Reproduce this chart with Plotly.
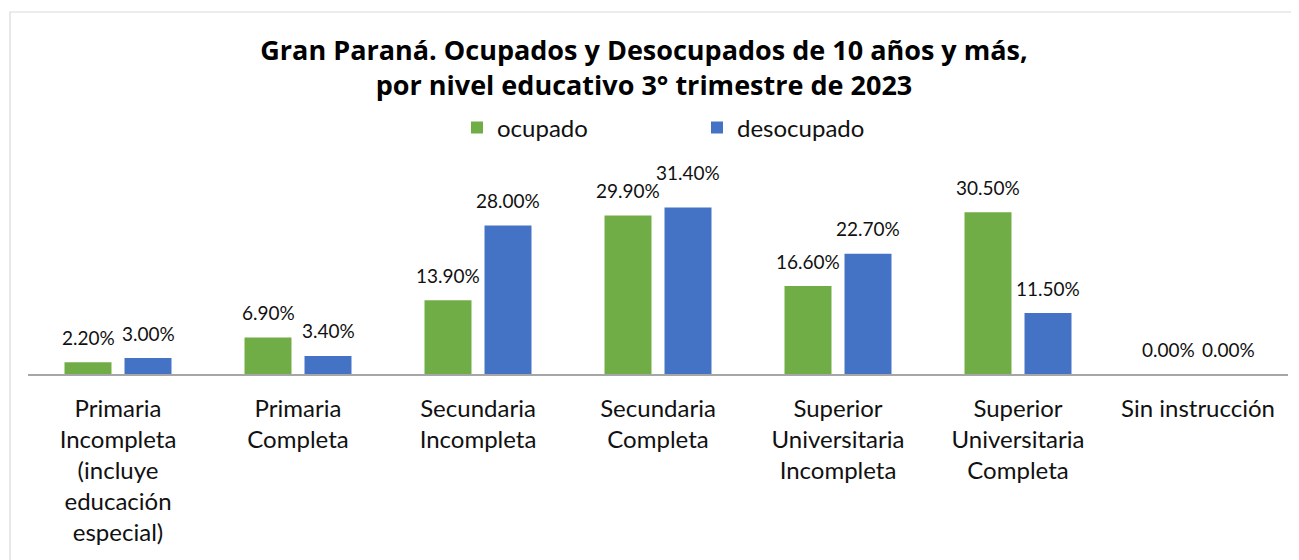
import plotly.graph_objects as go

categories = [
    "Primaria<br>Incompleta<br>(incluye<br>educación<br>especial)",
    "Primaria<br>Completa",
    "Secundaria<br>Incompleta",
    "Secundaria<br>Completa",
    "Superior<br>Universitaria<br>Incompleta",
    "Superior<br>Universitaria<br>Completa",
    "Sin instrucción",
]
ocupado = [2.2, 6.9, 13.9, 29.9, 16.6, 30.5, 0.0]
desocupado = [3.0, 3.4, 28.0, 31.4, 22.7, 11.5, 0.0]
series_names = ["ocupado", "desocupado"]
colors = ["#70AD47", "#4472C4"]

# page body adds an 8px margin, so the figure is 8px smaller than the window
W, H = 1291, 552
ML, MR, MT, MB = 20, 11, 154, 186
YMAX = 40
BARGAP = 1 / 3
BARGROUPGAP = 0.217

fig = go.Figure()
for name, vals, col in zip(series_names, [ocupado, desocupado], colors):
    fig.add_trace(go.Bar(x=categories, y=vals, name=name, marker_color=col,
                         marker_line_width=0, hoverinfo="x+y"))

plot_w = W - ML - MR
plot_h = H - MT - MB
cat_w = plot_w / len(categories)
slot = cat_w * (1 - BARGAP) / 2
annotations = []
for si, vals in enumerate([ocupado, desocupado]):
    offset = (si - 0.5) * slot
    for c, v in zip(categories, vals):
        extra = 10 if (si == 1 and v == max(desocupado)) else 0
        annotations.append(dict(
            x=c, y=v, xref="x", yref="y", text=f"{v:.2f}%", showarrow=False,
            xshift=offset, yshift=25 + extra, yanchor="middle",
            font=dict(family="Lato", size=19, color="#111111"),
        ))

fig.update_layout(
    width=W, height=H,
    margin=dict(l=ML, r=MR, t=MT, b=MB),
    paper_bgcolor="white", plot_bgcolor="white",
    barmode="group", bargap=BARGAP, bargroupgap=BARGROUPGAP,
    title=dict(
        text="<b>Gran Paraná. Ocupados y Desocupados de 10 años y más,<br>por nivel educativo 3° trimestre de 2023</b>",
        font=dict(family="Open Sans", size=27, color="#000000"),
        x=636 / W, xanchor="center", xref="container",
        y=1 - 52 / H, yanchor="top", yref="container",
    ),
    legend=dict(
        orientation="h", x=(449 - ML) / plot_w, xanchor="left",
        y=(H - MB - 120) / plot_h, yanchor="middle",
        font=dict(family="Lato", size=24, color="#111111"),
        entrywidth=195, entrywidthmode="pixels",
        bgcolor="rgba(0,0,0,0)",
    ),
    xaxis=dict(
        showline=True, linecolor="#A6A6A6", linewidth=1.5,
        ticks="", showgrid=False, ticklabelstandoff=12,
        tickfont=dict(family="Lato", size=24, color="#111111"),
    ),
    yaxis=dict(range=[0, YMAX], visible=False, showgrid=False, zeroline=False),
    annotations=annotations,
    shapes=[dict(
        type="rect", xref="paper", yref="paper",
        x0=(2 - ML) / plot_w, x1=1.5,
        y0=-2, y1=(H - MB - 4) / plot_h,
        line=dict(color="#D9D9D9", width=1.2), fillcolor="rgba(0,0,0,0)",
        layer="below",
    )],
)

fig.write_html("out.html")
